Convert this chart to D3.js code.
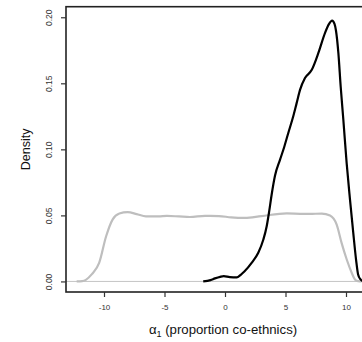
<!DOCTYPE html>
<html>
<head>
<meta charset="utf-8">
<script src="https://cdn.jsdelivr.net/npm/d3@7"></script>
<style>
  html, body { margin: 0; padding: 0; background: #fff; }
  svg { display: block; font-family: "Liberation Sans", Arial, Helvetica, sans-serif; }
</style>
</head>
<body>
<svg id="chart" width="362" height="342"></svg>
<script>
// Posterior density (black)
const postX = [-1.8,-1.2,-0.83,-0.4,-0.1,0.4,0.97,1.3,1.6,2.2,2.75,3.17,3.45,3.65,3.86,4.13,4.55,4.9,5.23,5.6,5.92,6.2,6.61,7.16,7.71,8.26,8.6,8.85,9.05,9.17,9.37,9.56,9.78,10.05,10.33,10.6,10.83,11.0,11.2,11.4];
const postY = [0.000,0.0010,0.0023,0.0035,0.0040,0.0032,0.0030,0.0050,0.0075,0.0141,0.0217,0.0317,0.0420,0.0530,0.0660,0.0800,0.0922,0.1020,0.1124,0.1237,0.1350,0.1450,0.1540,0.1600,0.1728,0.1880,0.1950,0.1975,0.1950,0.1900,0.1728,0.1476,0.1224,0.0900,0.0620,0.0368,0.0166,0.0053,0.0015,0.0002];
// Prior density (gray)
const priorX = [-12.26,-11.8,-11.5,-11.0,-10.4,-9.83,-9.28,-8.73,-8.04,-7.3,-6.53,-5.5,-4.8,-3.8,-2.9,-1.65,-0.5,0.5,1.65,3.0,5.1,6.2,7.0,8.0,8.68,9.23,9.64,10.06,10.47,10.74,11.0,11.3];
const priorY = [0,0.0003,0.0012,0.0055,0.0140,0.0340,0.0470,0.0514,0.0524,0.0510,0.0493,0.0493,0.0496,0.0492,0.0488,0.0496,0.0495,0.0485,0.0481,0.0495,0.0515,0.0512,0.0511,0.0514,0.0499,0.0430,0.0290,0.0166,0.0066,0.0015,0.0002,0];
const xTicks = [-10, -5, 0, 5, 10];
const yTicks = [0.00, 0.05, 0.10, 0.15, 0.20];
const xDomain = [-13.14, 13.14];
const yDomain = [-0.008, 0.208];

const svg = d3.select("#chart");
const L = 66, R = 384, T = 6.7, B = 292;
const x = d3.scaleLinear().domain(xDomain).range([L, R]);
const y = d3.scaleLinear().domain(yDomain).range([B, T]);

svg.append("defs").append("clipPath").attr("id", "clip")
  .append("rect").attr("x", L).attr("y", T).attr("width", R - L).attr("height", B - T);

const plot = svg.append("g").attr("clip-path", "url(#clip)");

// zero line
plot.append("line")
  .attr("x1", L).attr("x2", R).attr("y1", y(0)).attr("y2", y(0))
  .attr("stroke", "#c4c4c4").attr("stroke-width", 1);

const line = d3.line().curve(d3.curveMonotoneX).x(d => x(d[0])).y(d => y(d[1]));

plot.append("path")
  .datum(priorX.map((v, i) => [v, priorY[i]]))
  .attr("d", line).attr("fill", "none")
  .attr("stroke", "#bebebe").attr("stroke-width", 2.2);

plot.append("path")
  .datum(postX.map((v, i) => [v, postY[i]]))
  .attr("d", line).attr("fill", "none")
  .attr("stroke", "#000").attr("stroke-width", 2.2);

// box
svg.append("rect").attr("x", L).attr("y", T).attr("width", R - L).attr("height", B - T)
  .attr("fill", "none").attr("stroke", "#222").attr("stroke-width", 1.6);

// x axis
const xAxis = d3.axisBottom(x).tickValues(xTicks).tickSize(5).tickPadding(7)
  .tickFormat(d => d);
const gx = svg.append("g").attr("transform", `translate(0,${B})`).call(xAxis);
gx.select(".domain").remove();
gx.selectAll(".tick line").attr("stroke", "#333").attr("stroke-width", 1.2);
gx.selectAll(".tick text").attr("font-size", "8px").attr("fill", "#333")
  .attr("font-family", "Liberation Sans, Arial, sans-serif");

// y axis
const yAxis = d3.axisLeft(y).tickValues(yTicks).tickSize(5).tickPadding(5)
  .tickFormat(d3.format(".2f"));
const gy = svg.append("g").attr("transform", `translate(${L},0)`).call(yAxis);
gy.select(".domain").remove();
gy.selectAll(".tick line").attr("stroke", "#333").attr("stroke-width", 1.2);
gy.selectAll(".tick text")
  .attr("font-size", "8.5px").attr("fill", "#333")
  .attr("font-family", "Liberation Sans, Arial, sans-serif")
  .attr("text-anchor", "middle")
  .attr("transform", "rotate(-90)")
  .attr("x", 0).attr("y", -14).attr("dy", 0);

// axis titles
svg.append("text")
  .attr("transform", `translate(30,${(T + B) / 2}) rotate(-90)`)
  .attr("text-anchor", "middle").attr("font-size", "12.5px").attr("fill", "#111")
  .text("Density");

const xt = svg.append("text")
  .attr("x", (L + R) / 2 - 2).attr("y", 334)
  .attr("text-anchor", "middle").attr("font-size", "13.2px").attr("fill", "#111");
xt.append("tspan").text("α");
xt.append("tspan").attr("font-size", "9px").attr("dy", 3).text("1");
xt.append("tspan").attr("dy", -3).text(" (proportion co-ethnics)");
</script>
</body>
</html>
